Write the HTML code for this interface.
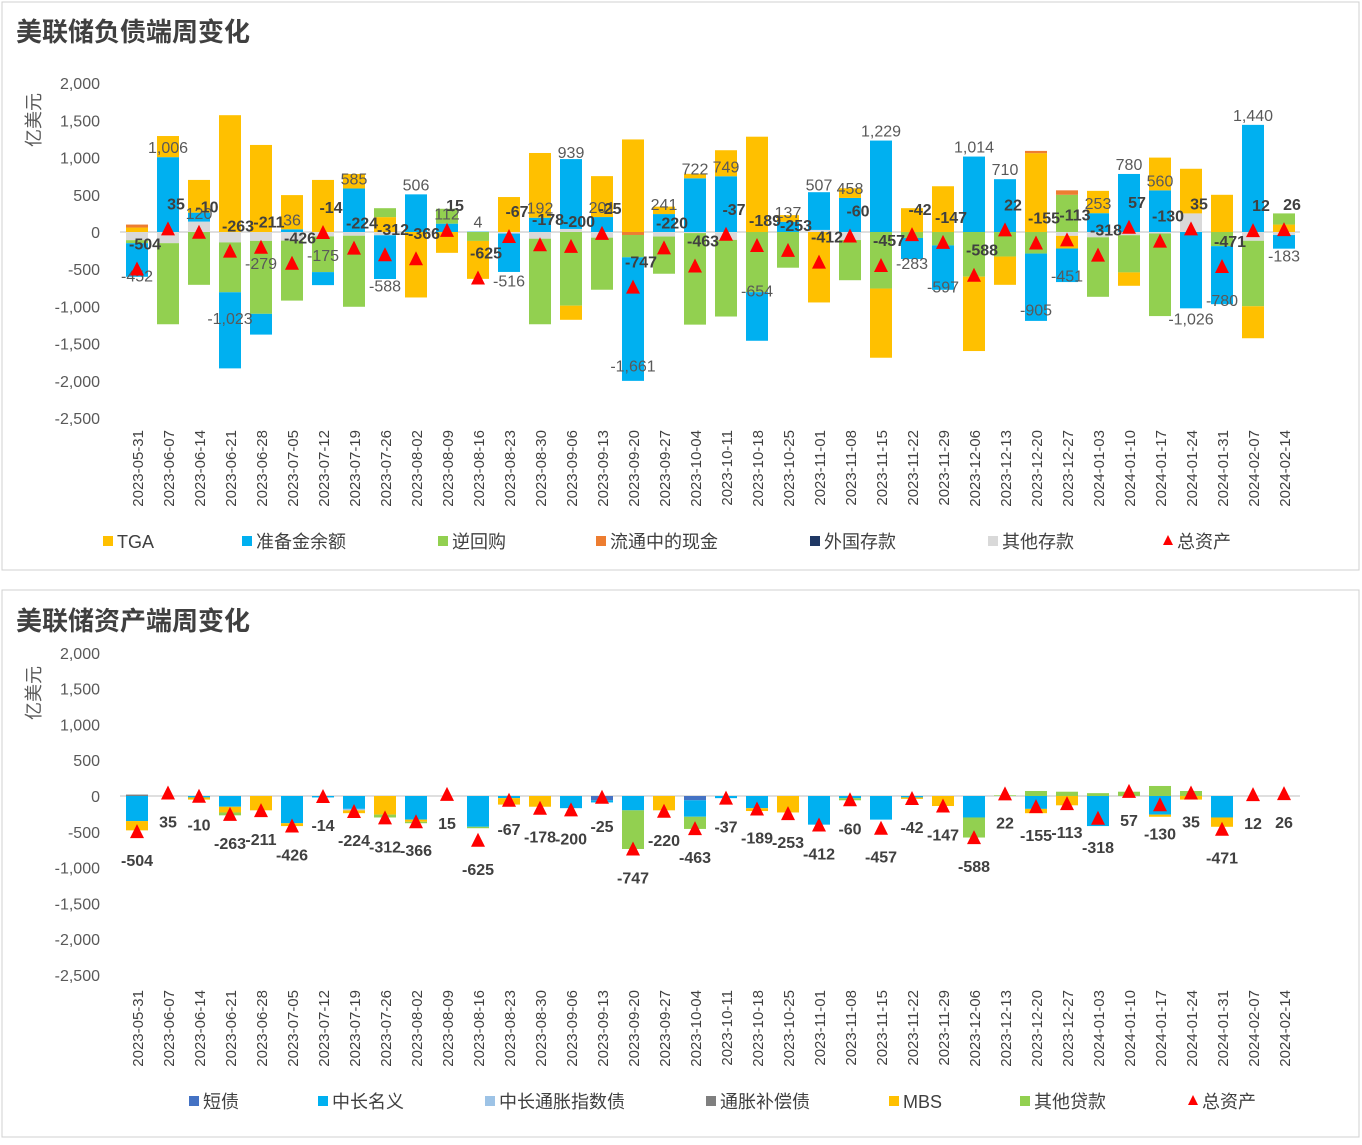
<!DOCTYPE html>
<html><head><meta charset="utf-8">
<style>
body{margin:0;background:#fff;width:1362px;height:1140px;overflow:hidden;font-family:"Liberation Sans","Noto Sans CJK SC",sans-serif}
svg text{font-family:"Liberation Sans","Noto Sans CJK SC",sans-serif}
</style></head><body>
<svg id="c" width="1362" height="1140" xmlns="http://www.w3.org/2000/svg">
<rect x="2" y="2" width="1357" height="568" fill="#fff" stroke="#d0d0d0"/>
<rect x="2" y="590" width="1357" height="547" fill="#fff" stroke="#d0d0d0"/>
<text x="16" y="41" font-size="26" font-weight="bold" fill="#404040">美联储负债端周变化</text>
<text x="16" y="630" font-size="26" font-weight="bold" fill="#404040">美联储资产端周变化</text>
<text transform="translate(40,120) rotate(-90)" text-anchor="middle" font-size="18" fill="#595959">亿美元</text>
<text transform="translate(40,693) rotate(-90)" text-anchor="middle" font-size="18" fill="#595959">亿美元</text>
</svg>
<script>
const dates=["2023-05-31","2023-06-07","2023-06-14","2023-06-21","2023-06-28","2023-07-05","2023-07-12","2023-07-19","2023-07-26","2023-08-02","2023-08-09","2023-08-16","2023-08-23","2023-08-30","2023-09-06","2023-09-13","2023-09-20","2023-09-27","2023-10-04","2023-10-11","2023-10-18","2023-10-25","2023-11-01","2023-11-08","2023-11-15","2023-11-22","2023-11-29","2023-12-06","2023-12-13","2023-12-20","2023-12-27","2024-01-03","2024-01-10","2024-01-17","2024-01-24","2024-01-31","2024-02-07","2024-02-14"];
const totalAssets=[-504,35,-10,-263,-211,-426,-14,-224,-312,-366,15,-625,-67,-178,-200,-25,-747,-220,-463,-37,-189,-253,-412,-60,-457,-42,-147,-588,22,-155,-113,-318,57,-130,35,-471,12,26];
const tga=[60,284,440,1570,1170,460,700,195,200,-880,-280,-510,470,870,-190,550,1244,100,60,350,1281,90,-947,130,-930,320,615,-1000,-380,1060,-170,300,-180,440,600,500,-430,100];
const reserves=[-452,1006,120,-1023,-279,36,-175,585,-588,506,112,4,-516,192,939,201,-1661,241,722,749,-654,137,507,458,1229,-283,-597,1014,710,-905,-451,253,780,560,-1026,-780,1440,-183];
const rrp=[-40,-1090,-710,-670,-980,-806,-480,-955,120,0,200,-120,0,-1150,-990,-700,-300,-500,-1230,-1030,-808,-480,0,-540,-760,-80,-180,-600,-330,-290,500,-800,-500,-1110,0,-190,-880,150];
const currency=[40,0,0,0,0,0,0,0,0,0,0,0,0,0,0,0,-40,0,0,0,0,0,0,0,0,0,0,0,0,30,60,0,0,0,0,0,0,0];
const foreign=[0,0,0,0,0,0,0,0,0,0,0,0,0,0,0,0,0,0,0,0,0,0,0,0,0,0,0,0,0,0,0,0,0,0,0,0,0,0];
const otherDep=[-110,-150,140,-140,-120,-116,-59,-50,-44,0,0,0,-21,-90,41,-76,0,-61,-15,-106,0,0,28,-108,0,0,0,0,0,0,-52,-71,-43,-20,250,0,-118,-41];
const shortBills=[0,0,0,0,0,0,0,0,0,0,0,0,0,0,0,-60,0,0,-60,0,0,0,0,0,0,0,0,0,0,0,0,0,0,0,0,0,0,0];
const coupons=[-350,0,-20,-150,0,-380,-20,-180,0,-330,0,-430,-30,0,-170,-30,-200,0,-230,-30,-170,0,-400,-30,-330,-20,0,-300,0,-180,0,-420,0,-260,0,-300,0,0];
const tips=[0,0,0,0,0,0,0,-20,0,0,0,0,0,0,0,0,0,0,0,0,0,0,0,0,0,0,0,0,0,0,0,0,0,0,0,0,0,0];
const inflComp=[20,0,0,0,0,0,0,0,0,0,0,0,0,0,0,0,0,0,0,0,0,0,0,0,0,0,0,0,0,0,0,0,0,0,0,0,0,0];
const mbs=[-130,0,-30,-80,-200,-40,0,-40,-260,-30,0,0,-90,-150,0,0,0,-200,0,0,-40,-230,0,0,0,-20,-140,0,0,-60,-130,0,0,-30,-50,-130,0,0];
const otherLoans=[0,0,0,-40,0,0,0,0,-40,-20,0,-20,0,0,0,0,-540,0,-170,0,0,0,0,-30,0,0,0,-280,10,70,60,40,60,140,70,0,0,0];
const yTicks=[2000,1500,1000,500,0,-500,-1000,-1500,-2000,-2500];

const svg=document.getElementById('c');
const NS='http://www.w3.org/2000/svg';
function mk(tag,attrs,parent){const e=document.createElementNS(NS,tag);for(const k in attrs)e.setAttribute(k,attrs[k]);(parent||svg).appendChild(e);return e;}
const xAt=i=>137+i*31.0;
const fmt=v=>{const s=Math.abs(v).toLocaleString('en-US');return (v<0?'-':'')+s;};

function drawChart(cfg){
  const y=v=>cfg.zero-v*cfg.scale;
  const g=mk('g',{});
  
  
  yTicks.forEach(t=>{
    const tx=mk('text',{x:100,y:y(t)+6,'text-anchor':'end','font-size':16,fill:'#595959'},g);
    tx.textContent=fmt(t);
    
    
  });
  const ax=mk('line',{x1:120,x2:1300,y1:y(0),y2:y(0),stroke:'#bfbfbf','stroke-width':1},g);
  
  
  dates.forEach((d,i)=>{
    let pos=0,neg=0;
    const posOrder=cfg.posOrder||cfg.series;
    const negOrder=cfg.negOrder||cfg.series;
    posOrder.forEach(s=>{
      const v=s.data[i];if(!(v>0))return;
      const y0=y(pos+v),y1=y(pos);pos+=v;
      const r=mk('rect',{x:xAt(i)-11,y:y0,width:22,height:Math.max(0.5,y1-y0),fill:s.color},g);
      
      
    });
    negOrder.forEach(s=>{
      const v=s.data[i];if(!(v<0))return;
      const y0=y(neg),y1=y(neg+v);neg+=v;
      const r=mk('rect',{x:xAt(i)-11,y:y0,width:22,height:Math.max(0.5,y1-y0),fill:s.color},g);
      
      
    });
    const lbl=mk('text',{transform:`translate(${xAt(i)+6},${cfg.xLabelY}) rotate(-90)`,'text-anchor':'end','font-size':15,fill:'#404040'},g);
    lbl.textContent=d;
    
    
  });
  if(cfg.top){
    dates.forEach((d,i)=>{
      const v=reserves[i];
      const t=mk('text',{x:xAt(i),y:v>0?y(v)-4:y(v)+16,'text-anchor':'middle','font-size':16,fill:'#595959'},g);
      t.textContent=fmt(v);
      
      
    });
  }
  dates.forEach((d,i)=>{
    const v=totalAssets[i],cx=xAt(i),cy=y(v);
    const tri=mk('polygon',{points:`${cx},${cy-8} ${cx-7},${cy+6} ${cx+7},${cy+6}`,fill:'#ff0000'},g);
    
    
    const t=mk('text',{x:cfg.top?cx+8:cx,y:cfg.top?cy-20:cy+34,'text-anchor':'middle','font-size':16,'font-weight':'bold',fill:'#404040'},g);
    t.textContent=fmt(v);
    
    
  });
  cfg.legend.forEach(L=>{
    if(L.tri){
      const p=mk('polygon',{points:`${L.x+5},${cfg.legY-13} ${L.x},${cfg.legY-3} ${L.x+10},${cfg.legY-3}`,fill:'#ff0000'},g);
      
      
    } else {
      const b=mk('rect',{x:L.x,y:cfg.legY-12,width:10,height:10,fill:L.color},g);
      
      
    }
    const t=mk('text',{x:L.x+14,y:cfg.legY,'font-size':18,fill:'#404040'},g);
    t.textContent=L.label;
    
    
  });
}

const sRes={key:'reserves',data:reserves,color:'#00b0f0'};
const sTga={key:'tga',data:tga,color:'#ffc000'};
const sRrp={key:'rrp',data:rrp,color:'#92d050'};
const sCur={key:'currency',data:currency,color:'#ed7d31'};
const sFor={key:'foreign',data:foreign,color:'#1f3864'};
const sOth={key:'other-deposits',data:otherDep,color:'#d9d9d9'};

drawChart({name:'liability-chart',top:true,zero:232,scale:37.2/500,xLabelY:430,legY:548,
  posOrder:[sOth,sRes,sTga,sRrp,sCur,sFor],
  negOrder:[sOth,sCur,sRrp,sTga,sRes,sFor],
  legend:[{x:103,label:'TGA',color:'#ffc000'},{x:242,label:'准备金余额',color:'#00b0f0'},{x:438,label:'逆回购',color:'#92d050'},{x:596,label:'流通中的现金',color:'#ed7d31'},{x:810,label:'外国存款',color:'#1f3864'},{x:988,label:'其他存款',color:'#d9d9d9'},{x:1163,label:'总资产',tri:true}]});

drawChart({name:'asset-chart',top:false,zero:796,scale:35.8/500,xLabelY:990,legY:1108,
  series:[
    {key:'short-bills',data:shortBills,color:'#4472c4'},
    {key:'coupons',data:coupons,color:'#00b0f0'},
    {key:'tips',data:tips,color:'#9dc3e6'},
    {key:'inflation-comp',data:inflComp,color:'#7f7f7f'},
    {key:'mbs',data:mbs,color:'#ffc000'},
    {key:'other-loans',data:otherLoans,color:'#92d050'}],
  legend:[{x:189,label:'短债',color:'#4472c4'},{x:318,label:'中长名义',color:'#00b0f0'},{x:485,label:'中长通胀指数债',color:'#9dc3e6'},{x:706,label:'通胀补偿债',color:'#7f7f7f'},{x:889,label:'MBS',color:'#ffc000'},{x:1020,label:'其他贷款',color:'#92d050'},{x:1188,label:'总资产',tri:true}]});
</script>
</body></html>
